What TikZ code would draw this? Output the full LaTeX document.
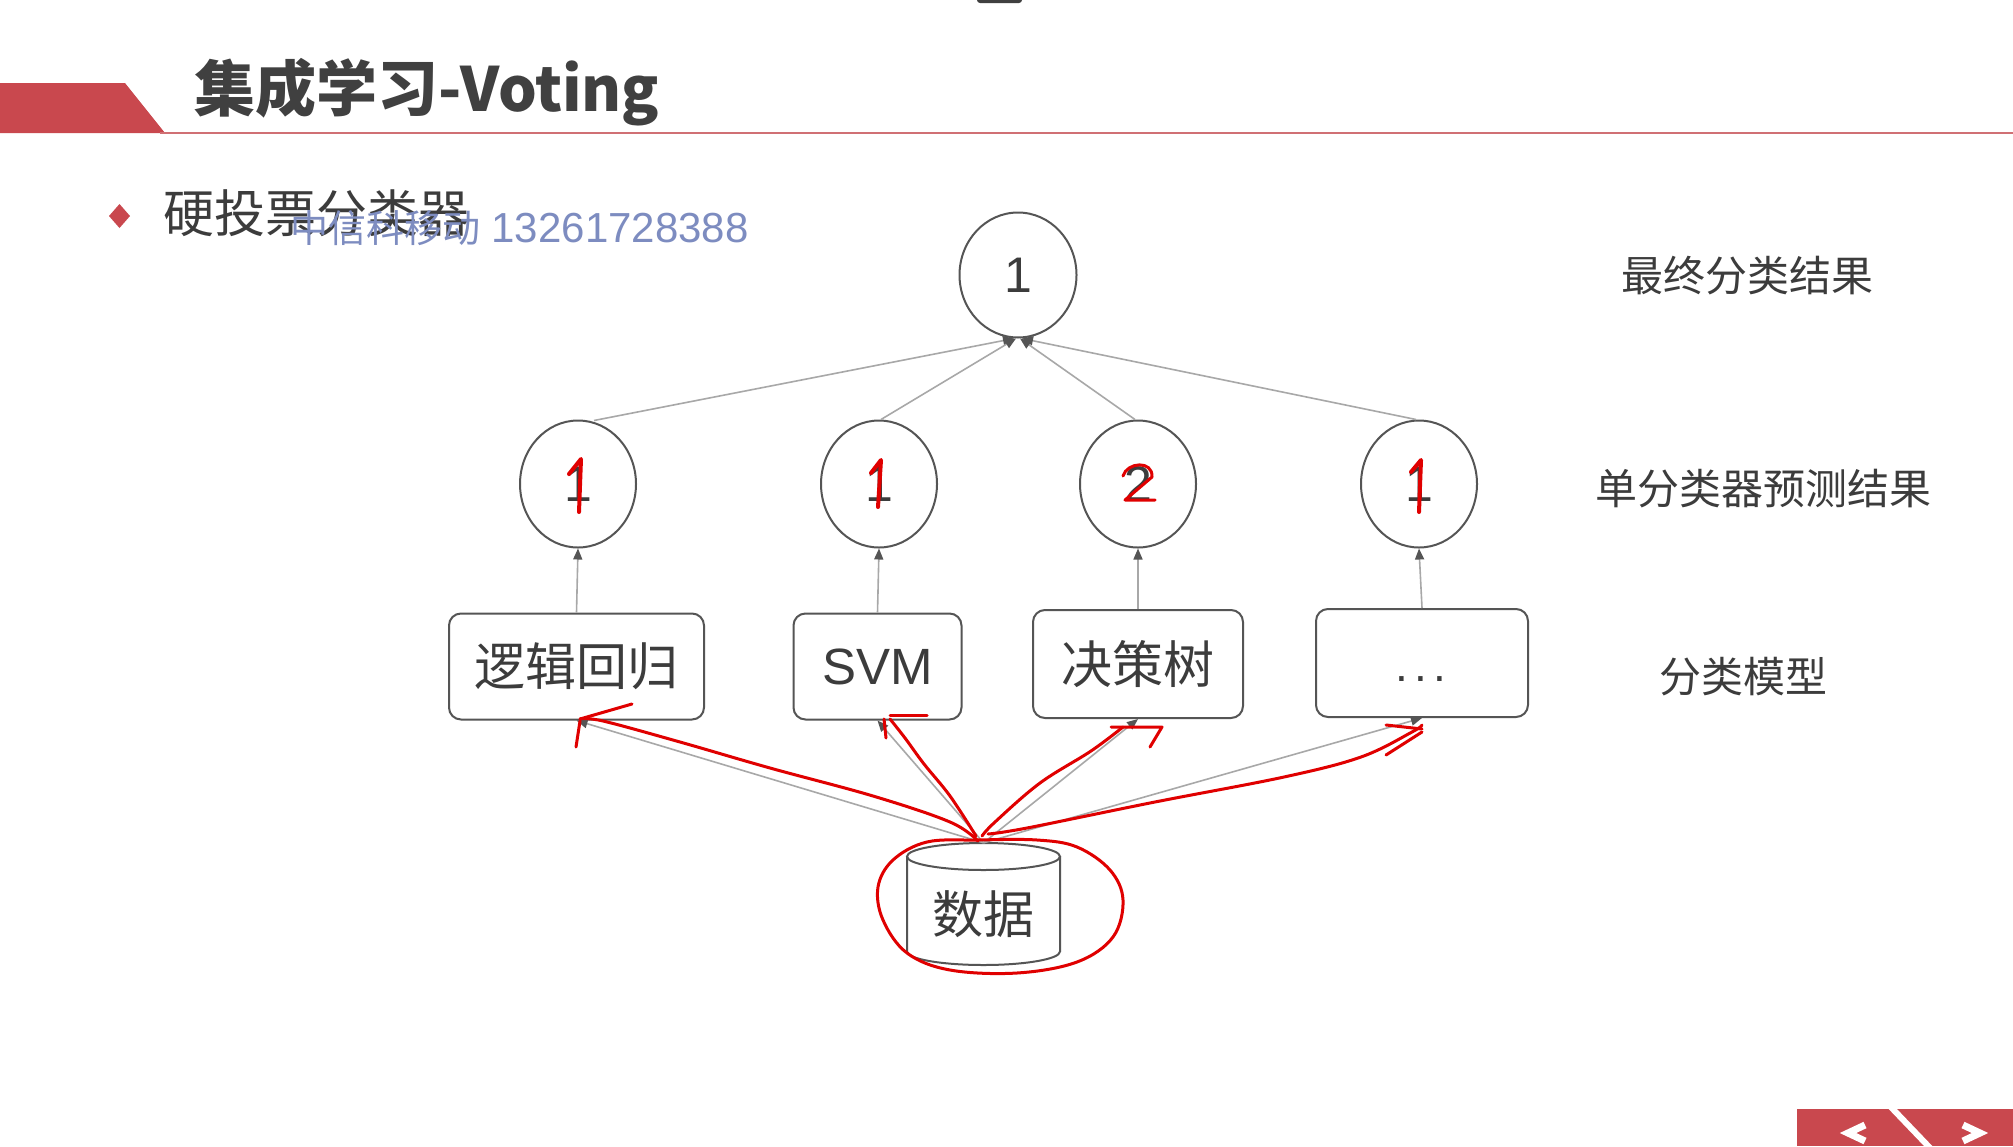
\documentclass[tikz,border=0pt]{standalone}
\usepackage{fontspec}
\setmainfont{Liberation Sans}
\newfontfamily\cjk{Noto Sans CJK SC}
\usetikzlibrary{arrows.meta,shapes.geometric}
\definecolor{txt}{HTML}{3C3C3C}
\definecolor{ttl}{HTML}{404040}
\definecolor{brd}{HTML}{555555}
\definecolor{edg}{HTML}{A8A8A8}
\definecolor{redbar}{HTML}{C9484E}
\definecolor{redline}{HTML}{D07074}
\definecolor{wm}{HTML}{7D8CC0}
\definecolor{pen}{HTML}{E00000}
\tikzset{
  circ/.style={ellipse, draw=brd, line width=2pt, fill=white, minimum width=116, minimum height=127, inner sep=0pt, font=\fontsize{50}{50}\selectfont, text=txt},
  modelbox/.style={draw=brd, line width=2pt, rounded corners=12pt, minimum height=106, inner sep=0pt, font=\cjk\fontsize{51}{51}\selectfont, text=txt},
  conn/.style={draw=edg, line width=1.6pt, -{Triangle[length=11pt,width=9pt,color=brd]}},
  penline/.style={draw=pen, line width=3pt, line cap=round, line join=round},
  sidelabel/.style={font=\cjk\fontsize{42}{42}\selectfont, text=txt}
}
\begin{document}
\begin{tikzpicture}[x=1pt,y=-1pt]
\useasboundingbox (0,0) rectangle (2013,1146);
\fill[white] (0,0) rectangle (2013,1146);
% top dark tab
\fill[black!75, rounded corners=3pt] (977,-8) rectangle (1022,3);
% title bar
\fill[redbar] (0,83) -- (125,83) -- (165,133) -- (0,133) -- cycle;
\draw[redline, line width=2pt] (160,133) -- (2013,133);
\node[anchor=west, inner sep=0pt, font=\cjk\bfseries\fontsize{61}{61}\selectfont, text=ttl] (title) at (194,92) {集成学习-Voting};
% bullet
\fill[redbar] (119.5,204) -- (130,216) -- (119.5,228) -- (109,216) -- cycle;
\node[anchor=west, inner sep=0pt, font=\cjk\fontsize{51}{51}\selectfont, text=txt] (sub) at (163,213) {硬投票分类器};
\node[anchor=west, inner sep=0pt, font=\cjk\fontsize{38}{38}\selectfont, text=wm] (wmark) at (290,228) {中信科移动\hspace{0.3em}{\fontspec{Liberation Sans}\fontsize{42}{42}\selectfont 13261728388}};

% nodes
\node[circ, minimum width=117, minimum height=125] (top) at (1018,275) {1};
\node[circ] (e1) at (578,484) {1};
\node[circ] (e2) at (879,484) {1};
\node[circ] (e3) at (1138,484) {2};
\node[circ] (e4) at (1419,484) {1};

\node[modelbox, minimum width=255] (b1) at (576.5,666.5) {逻辑回归};
\node[modelbox, minimum width=168, font=\fontsize{51}{51}\selectfont] (b2) at (877.5,666.5) {SVM};
\node[modelbox, minimum width=210, minimum height=108] (b3) at (1138,664) {决策树};
\node[modelbox, minimum width=212, minimum height=108] (b4) at (1422,663) {};
\node[inner sep=0pt, anchor=base, font=\fontsize{46}{46}\selectfont, text=txt] (b4dots) at (1421,681) {.\hspace{6pt}.\hspace{6pt}.};

% data cylinder
\node[minimum width=153, minimum height=122, inner sep=0pt] (data) at (983.5,904) {};
\draw[brd, line width=2pt] (983.5,856.5) ellipse [x radius=76.5, y radius=13.5];
\draw[brd, line width=2pt] (907,856.5) -- (907,951.5) arc[start angle=180, end angle=0, x radius=76.5, y radius=13.5] -- (1060,856.5);
\node[inner sep=0pt, font=\cjk\fontsize{51}{51}\selectfont, text=txt] (datalbl) at (983.5,914) {数据};

% side labels
\node[sidelabel] (lbl1) at (1747,276) {最终分类结果};
\node[sidelabel] (lbl2) at (1763,489) {单分类器预测结果};
\node[sidelabel] (lbl3) at (1743,677) {分类模型};

% connectors
\foreach \i in {1,2,3,4} {
  \draw[conn] (b\i.north) -- (e\i.south);
  \draw[conn] (data.north) -- (b\i.south);
}
\draw[conn] ([xshift=16pt,yshift=-1pt]e1.north) -- ([xshift=-4pt]top.south);
\draw[conn] ([xshift=2pt]e2.north) -- ([xshift=-2pt]top.south);
\draw[conn] ([xshift=-3pt]e3.north) -- ([xshift=2pt]top.south);
\draw[conn] ([xshift=-3pt]e4.north) -- ([xshift=4pt]top.south);

% red hand annotations: digits
\draw[penline, line width=4pt] (569,474) -- (581,459) -- (579,512);
\draw[penline, line width=4pt] (871,473) -- (881,460) -- (878,507);
\draw[penline] (1123,476) .. controls (1127,462) and (1153,460) .. (1152,477) -- (1125,500) -- (1155,500);
\draw[penline, line width=4pt] (1411,472) -- (1421,460) -- (1419,512);

% red strokes to boxes
\draw[penline] plot[smooth, tension=0.6] coordinates {(978,841) (950,822) (873,796) (770,768) (680,742) (603,721) (580,719)};
\draw[penline] (580,719) -- (632,704);
\draw[penline] (580,721) -- (576,747);

\draw[penline] plot[smooth, tension=0.6] coordinates {(976,836) (950,796) (924,764) (905,738) (890,719)};
\draw[penline] (890,715) -- (927,715);
\draw[penline] (884,719) -- (886,738);

\draw[penline] plot[smooth, tension=0.6] coordinates {(982,836) (995,822) (1040,783) (1091,751) (1123,727)};
\draw[penline] (1111,727) -- (1162,727) -- (1150,747);

\draw[penline] plot[smooth, tension=0.6] coordinates {(988,834) (1027,828) (1155,802) (1284,777) (1361,757) (1412,732) (1422,725)};
\draw[penline] (1386,725) -- (1422,729);
\draw[penline] (1422,732) -- (1386,755);

% red loop round data
\draw[penline] plot[smooth cycle, tension=0.6] coordinates {(977,840) (927,842) (893,860) (878,887) (883,920) (907,953) (950,970) (1017,973) (1077,962) (1113,937) (1123,900) (1110,870) (1077,847) (1037,840)};

% nav button
\fill[redbar] (1797,1109) rectangle (2013,1146);
\draw[white, line width=6pt] (1888,1104) -- (1932,1150);
\draw[white, line width=7pt] (1865,1125) -- (1848,1133) -- (1865,1141);
\draw[white, line width=7pt] (1963,1125) -- (1980,1133) -- (1963,1141);
\end{tikzpicture}
\end{document}
